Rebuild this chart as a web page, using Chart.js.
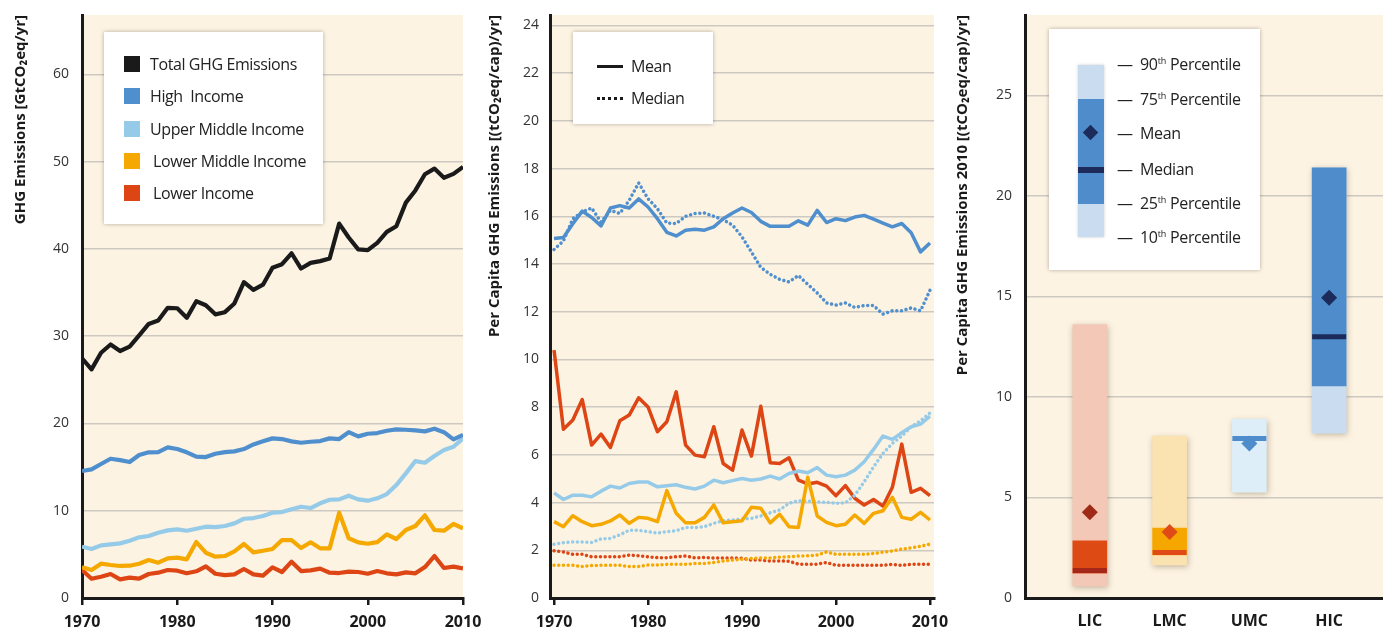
<!DOCTYPE html>
<html>
<head>
<meta charset="utf-8">
<title>GHG emissions by income group</title>
<script src="https://cdn.jsdelivr.net/npm/chart.js@4.4.1/dist/chart.umd.min.js"></script>
<style>
  body { margin: 0; background: #fff; font-family: 'Open Sans', sans-serif; color: #222; }
  #wrap { position: relative; width: 1383px; height: 628px; overflow: hidden; }
  canvas { position: absolute; top: 0; }
  .legend { position: absolute; background: #fff; box-shadow: 0 0 4px rgba(0,0,0,0.3); font-size: 16px; letter-spacing: -0.4px; }
  .legend .row { position: absolute; left: 0; height: 20px; line-height: 20px; white-space: nowrap; }
  .legend .sw { position: absolute; width: 16px; height: 16px; top: 2px; }
  .legend sup { font-size: 9px; vertical-align: 0; position: relative; top: -6px; letter-spacing: 0; }
</style>
</head>
<body>
<div id="wrap">
  <canvas id="c1" width="500" height="628" style="left:0"></canvas>
  <canvas id="c2" width="480" height="628" style="left:480px"></canvas>
  <canvas id="c3" width="443" height="628" style="left:940px"></canvas>

  <div class="legend" style="left:104px;top:32px;width:219px;height:192px">
    <div class="row" style="top:22px"><span class="sw" style="left:20px;background:#1a1a1a"></span><span style="position:absolute;left:46px">Total GHG Emissions</span></div>
    <div class="row" style="top:54px"><span class="sw" style="left:20px;background:#4f8fce"></span><span style="position:absolute;left:46px">High&nbsp; Income</span></div>
    <div class="row" style="top:87px"><span class="sw" style="left:20px;background:#95cbe8"></span><span style="position:absolute;left:46px">Upper Middle Income</span></div>
    <div class="row" style="top:119px"><span class="sw" style="left:20px;background:#f5a800"></span><span style="position:absolute;left:49px">Lower Middle Income</span></div>
    <div class="row" style="top:151px"><span class="sw" style="left:20px;background:#dd4514"></span><span style="position:absolute;left:49px">Lower Income</span></div>
  </div>

  <div class="legend" style="left:573px;top:32px;width:140px;height:92px">
    <div class="row" style="top:24px"><span style="position:absolute;left:24px;top:9px;width:26px;border-top:3px solid #1a1a1a"></span><span style="position:absolute;left:58px">Mean</span></div>
    <div class="row" style="top:56px"><span style="position:absolute;left:24px;top:9px;width:26px;border-top:3px dotted #1a1a1a"></span><span style="position:absolute;left:58px">Median</span></div>
  </div>

  <div class="legend" style="left:1049px;top:29px;width:211px;height:241px">
    <div style="position:absolute;left:29px;top:36px;width:26px;height:172px;background:#cadcef;box-shadow:0 0 3px rgba(0,0,0,0.2)"></div>
    <div style="position:absolute;left:29px;top:70px;width:26px;height:105px;background:#4f8ccb"></div>
    <div style="position:absolute;left:29px;top:138px;width:26px;height:6px;background:#1c2b5a"></div>
    <div style="position:absolute;left:36px;top:98px;width:11px;height:11px;background:#1c2b5a;transform:rotate(45deg)"></div>
    <div class="row" style="top:25px;left:68px">— &nbsp;90<sup>th</sup> Percentile</div>
    <div class="row" style="top:60px;left:68px">— &nbsp;75<sup>th</sup> Percentile</div>
    <div class="row" style="top:94px;left:68px">— &nbsp;Mean</div>
    <div class="row" style="top:130px;left:68px">— &nbsp;Median</div>
    <div class="row" style="top:164px;left:68px">— &nbsp;25<sup>th</sup> Percentile</div>
    <div class="row" style="top:198px;left:68px">— &nbsp;10<sup>th</sup> Percentile</div>
  </div>
</div>

<script>
// years on the x axis of the two time-series panels
const years = [1970,1971,1972,1973,1974,1975,1976,1977,1978,1979,
  1980,1981,1982,1983,1984,1985,1986,1987,1988,1989,
  1990,1991,1992,1993,1994,1995,1996,1997,1998,1999,
  2000,2001,2002,2003,2004,2005,2006,2007,2008,2009,2010];

// panel a: total emissions by income group, GtCO2eq/yr
const totalGhg = [27.45,26.2,28.1,29.05,28.3,28.8,30.1,31.4,31.8,33.25,
  33.2,32.1,34.0,33.55,32.5,32.75,33.75,36.2,35.3,35.9,
  37.85,38.25,39.5,37.75,38.4,38.6,38.9,42.9,41.3,39.95,
  39.85,40.7,41.95,42.6,45.3,46.7,48.55,49.2,48.15,48.6,49.4];
const highIncome = [14.55,14.74,15.35,15.96,15.8,15.58,16.38,16.69,16.72,17.26,
  17.07,16.69,16.19,16.15,16.53,16.72,16.8,17.07,17.6,17.95,
  18.29,18.21,17.95,17.79,17.9,17.98,18.29,18.21,19.0,18.52,
  18.82,18.9,19.16,19.32,19.28,19.2,19.09,19.4,19.0,18.17,18.7];
const upperMiddle = [5.88,5.61,6.03,6.15,6.26,6.57,6.95,7.1,7.48,7.75,
  7.86,7.71,7.94,8.17,8.13,8.25,8.55,9.08,9.16,9.39,
  9.77,9.85,10.16,10.46,10.31,10.85,11.26,11.3,11.72,11.3,
  11.15,11.42,11.91,12.94,14.28,15.69,15.5,16.27,16.95,17.33,18.29];
const lowerMiddle = [3.51,3.21,3.93,3.78,3.67,3.7,3.93,4.35,4.05,4.55,
  4.62,4.43,6.41,5.19,4.73,4.81,5.35,6.19,5.23,5.42,
  5.61,6.64,6.64,5.73,6.38,5.69,5.69,9.77,6.84,6.38,
  6.22,6.41,7.29,6.76,7.79,8.25,9.47,7.79,7.71,8.48,7.98];
const lowerIncome = [3.21,2.21,2.44,2.75,2.14,2.33,2.21,2.75,2.9,3.21,
  3.13,2.83,3.06,3.63,2.78,2.63,2.71,3.32,2.71,2.56,
  3.51,2.98,4.16,3.09,3.17,3.36,2.9,2.86,3.02,2.98,
  2.78,3.09,2.83,2.71,2.94,2.83,3.55,4.81,3.44,3.59,3.4];
const ticksA = [0,10,20,30,40,50,60];

// panel b: per capita emissions, (tCO2eq/cap)/yr
const hicMean = [15.07,15.11,15.69,16.22,15.95,15.6,16.35,16.45,16.35,16.73,
  16.39,15.9,15.33,15.18,15.42,15.46,15.42,15.56,15.9,16.14,
  16.35,16.16,15.79,15.58,15.58,15.58,15.81,15.63,16.25,15.74,
  15.9,15.82,15.97,16.04,15.88,15.72,15.56,15.7,15.31,14.51,14.88];
const hicMedian = [14.61,14.97,15.9,16.18,16.35,15.76,16.25,16.12,16.67,17.4,
  16.74,16.32,15.72,15.7,16.0,16.12,16.14,16.0,15.86,15.63,
  15.14,14.51,13.86,13.57,13.36,13.25,13.52,13.15,12.79,12.37,
  12.28,12.37,12.18,12.26,12.26,11.9,12.04,12.04,12.16,12.04,12.9];
const umcMean = [4.41,4.13,4.31,4.31,4.24,4.48,4.69,4.61,4.8,4.86,
  4.86,4.66,4.71,4.75,4.64,4.57,4.69,4.94,4.83,4.92,
  5.01,4.94,4.99,5.11,4.99,5.22,5.32,5.25,5.47,5.15,
  5.08,5.15,5.36,5.71,6.23,6.79,6.65,6.93,7.18,7.29,7.62];
const umcMedian = [2.25,2.32,2.35,2.35,2.33,2.48,2.5,2.65,2.84,2.84,
  2.78,2.72,2.78,2.82,2.96,2.95,2.99,3.13,3.24,3.27,
  3.31,3.34,3.44,3.57,3.69,3.97,4.08,4.06,4.03,4.01,
  3.97,3.99,4.31,4.87,5.5,6.06,6.48,6.79,7.18,7.43,7.76];
const lmcMean = [3.2,2.99,3.45,3.2,3.03,3.09,3.23,3.48,3.13,3.38,
  3.34,3.2,4.5,3.55,3.15,3.15,3.38,3.9,3.15,3.2,
  3.24,3.8,3.76,3.15,3.51,2.99,2.96,5.06,3.44,3.17,
  3.03,3.09,3.48,3.13,3.55,3.66,4.22,3.38,3.3,3.59,3.27];
const lmcMedian = [1.37,1.37,1.37,1.32,1.36,1.37,1.37,1.37,1.32,1.32,
  1.38,1.38,1.41,1.41,1.41,1.45,1.45,1.49,1.55,1.59,
  1.62,1.66,1.68,1.68,1.71,1.73,1.76,1.77,1.8,1.93,
  1.83,1.83,1.83,1.83,1.87,1.92,1.97,2.05,2.1,2.17,2.26];
const licMean = [10.39,7.07,7.46,8.32,6.41,6.87,6.31,7.43,7.67,8.39,
  8.01,6.97,7.39,8.64,6.41,5.99,5.92,7.18,5.64,5.36,
  7.04,5.95,8.04,5.67,5.64,5.88,4.94,4.78,4.85,4.69,
  4.29,4.71,4.18,3.9,4.13,3.85,4.64,6.45,4.43,4.6,4.29];
const licMedian = [1.98,1.93,1.83,1.83,1.73,1.73,1.73,1.73,1.8,1.77,
  1.73,1.69,1.69,1.73,1.76,1.68,1.7,1.68,1.68,1.68,
  1.66,1.59,1.59,1.55,1.55,1.54,1.42,1.42,1.42,1.49,
  1.37,1.37,1.37,1.37,1.37,1.37,1.41,1.37,1.41,1.41,1.41];
const ticksB = [0,2,4,6,8,10,12,14,16,18,20,22,24];

// panel c: distribution of 2010 per capita emissions
const groups = ['LIC', 'LMC', 'UMC', 'HIC'];
const p10 = [0.6, 1.64, 5.27, 8.2];
const p25 = [1.24, 2.14, null, 10.55];
const median = [1.37, 2.26, 7.93, 13.0];
const mean = [4.27, 3.28, 7.69, 14.93];
const p75 = [2.84, 3.48, null, 21.4];
const p90 = [13.6, 8.06, 8.9, 21.4];
const ticksC = [0, 5, 10, 15, 20, 25];

const COL = { black: '#1a1a1a', high: '#4f8fce', upper: '#95cbe8', lowerMid: '#f5a800', lower: '#dd4514' };
const outerCol = ['#f4c8b6', '#fbe3b1', '#ddeef8', '#cadcef'];
const innerCol = ['#dd4a14', '#f5a700', '#ddeef8', '#4f8ccb'];
const medianCol = ['#a3281a', '#e04a16', '#4f8ccb', '#1c2b5a'];
const meanCol = ['#9e2a18', '#e04a16', '#4f8ccb', '#1c2b5a'];

Chart.defaults.font.family = "'Open Sans', sans-serif";
Chart.defaults.color = '#333';
Chart.defaults.animation = false;
Chart.defaults.events = [];
Chart.defaults.plugins.legend.display = false;
Chart.defaults.plugins.tooltip.enabled = false;

const cream = {
  id: 'cream',
  beforeDraw(chart) {
    const a = chart.chartArea, ctx = chart.ctx;
    ctx.save();
    ctx.fillStyle = '#fdf3e2';
    ctx.fillRect(a.left, a.top, a.right - a.left, a.bottom - a.top);
    ctx.restore();
  }
};

// soft shadow under the 10-90 bars in panel c
const barShadow = {
  id: 'barShadow',
  beforeDatasetDraw(chart, args) {
    if (chart.canvas.id !== 'c3' || args.meta.type !== 'bar' || args.index !== 3) return;
    const ctx = chart.ctx;
    ctx.save();
    ctx.shadowColor = 'rgba(90,70,40,0.35)';
    ctx.shadowBlur = 6;
    ctx.shadowOffsetX = 1;
    ctx.shadowOffsetY = 2;
  },
  afterDatasetDraw(chart, args) {
    if (chart.canvas.id !== 'c3' || args.meta.type !== 'bar' || args.index !== 3) return;
    chart.ctx.restore();
  }
};

function fixedTicks(list) {
  return scale => { scale.ticks = list.map(v => ({ value: v })); };
}

function yAxis(max, ticks, width, title, titlePad, tickPad) {
  return {
    min: 0, max: max,
    afterBuildTicks: fixedTicks(ticks),
    afterFit: s => { s.width = width; s.paddingTop = 0; s.paddingBottom = 0; },
    grid: { color: '#cdc9c1', lineWidth: 1.5, drawTicks: false },
    border: { color: '#1a1a1a', width: 3 },
    ticks: { padding: tickPad, font: { size: 14 }, color: '#333' },
    title: { display: true, text: title, align: 'end', color: '#1a1a1a',
      font: { size: 15, weight: 'bold' }, padding: { top: titlePad, bottom: 0 } }
  };
}

function xYears(min, max) {
  return {
    type: 'linear', min: min, max: max, offset: false,
    afterBuildTicks: fixedTicks([1970, 1980, 1990, 2000, 2010]),
    afterFit: s => { s.height = 30; },
    grid: { drawOnChartArea: false, drawTicks: true, tickLength: 7, color: '#1a1a1a', lineWidth: 2.5 },
    border: { color: '#1a1a1a', width: 3 },
    ticks: { padding: 8, color: '#1a1a1a', font: { size: 16, weight: 'bold' }, callback: v => String(v) }
  };
}

function line(data, color, width, dotted) {
  return {
    data: data, borderColor: color, borderWidth: width, pointRadius: 0, tension: 0,
    borderDash: dotted ? [0.01, 4.7] : [], borderCapStyle: dotted ? 'round' : 'butt',
    borderJoinStyle: 'round', fill: false
  };
}

new Chart(document.getElementById('c1'), {
  type: 'line',
  data: {
    labels: years,
    datasets: [
      line(totalGhg, COL.black, 4.2),
      line(highIncome, COL.high, 4.2),
      line(upperMiddle, COL.upper, 4.2),
      line(lowerMiddle, COL.lowerMid, 4.2),
      line(lowerIncome, COL.lower, 4.2)
    ]
  },
  options: {
    responsive: false,
    layout: { autoPadding: false, padding: { top: 15, right: 37, left: 0, bottom: 0 } },
    scales: {
      x: xYears(1970, 2010),
      y: yAxis(66.8, ticksA, 82, 'GHG Emissions [GtCO₂eq/yr]', 12, 13)
    }
  },
  plugins: [cream]
});

new Chart(document.getElementById('c2'), {
  type: 'line',
  data: {
    labels: years,
    datasets: [
      line(hicMean, COL.high, 3.5),
      line(hicMedian, COL.high, 3.5, true),
      line(lmcMean, COL.lowerMid, 3.5),
      line(umcMean, COL.upper, 3.5),
      line(umcMedian, COL.upper, 3.5, true),
      line(lmcMedian, COL.lowerMid, 3.5, true),
      line(licMean, COL.lower, 3.5),
      line(licMedian, COL.lower, 3.5, true)
    ]
  },
  options: {
    responsive: false,
    layout: { autoPadding: false, padding: { top: 15, right: 26, left: 0, bottom: 0 } },
    scales: {
      x: xYears(1969.57, 2010.43),
      y: yAxis(24.44, ticksB, 70, 'Per Capita GHG Emissions [(tCO₂eq/cap)/yr]', 6, 11)
    }
  },
  plugins: [cream]
});

const idx = [1, 2, 3, 4];
const hasBox = groups.map((g, i) => p25[i] !== null);

new Chart(document.getElementById('c3'), {
  type: 'bar',
  data: {
    datasets: [
      { type: 'scatter', data: idx.map((x, i) => ({ x: x, y: mean[i] })),
        pointStyle: 'rectRot', pointRadius: 8, pointBackgroundColor: meanCol, pointBorderWidth: 0 },
      { type: 'scatter', data: idx.map((x, i) => ({ x: x, y: median[i] })),
        pointStyle: 'line', pointRadius: 17, pointBorderColor: medianCol, pointBorderWidth: 5 },
      { type: 'bar', grouped: false, barThickness: 34,
        data: idx.filter((x, i) => hasBox[i]).map(x => ({ x: x, y: [p25[x - 1], p75[x - 1]] })),
        backgroundColor: innerCol.filter((c, i) => hasBox[i]) },
      { type: 'bar', grouped: false, barThickness: 34,
        data: idx.map((x, i) => ({ x: x, y: [p10[i], p90[i]] })),
        backgroundColor: outerCol }
    ]
  },
  options: {
    responsive: false,
    layout: { autoPadding: false, padding: { top: 15, right: 0, left: 0, bottom: 0 } },
    scales: {
      x: {
        type: 'linear', min: 0.1875, max: 4.675, offset: false,
        afterBuildTicks: fixedTicks(idx),
        afterFit: s => { s.height = 30; s.paddingLeft = 0; s.paddingRight = 0; },
        grid: { drawOnChartArea: false, drawTicks: false },
        border: { color: '#1a1a1a', width: 3 },
        ticks: { padding: 14, color: '#1a1a1a', font: { size: 16, weight: 'bold' }, callback: v => groups[v - 1] }
      },
      y: yAxis(29, ticksC, 85, 'Per Capita GHG Emissions 2010 [(tCO₂eq/cap)/yr]', 14, 13)
    }
  },
  plugins: [cream, barShadow]
});
</script>
</body>
</html>
